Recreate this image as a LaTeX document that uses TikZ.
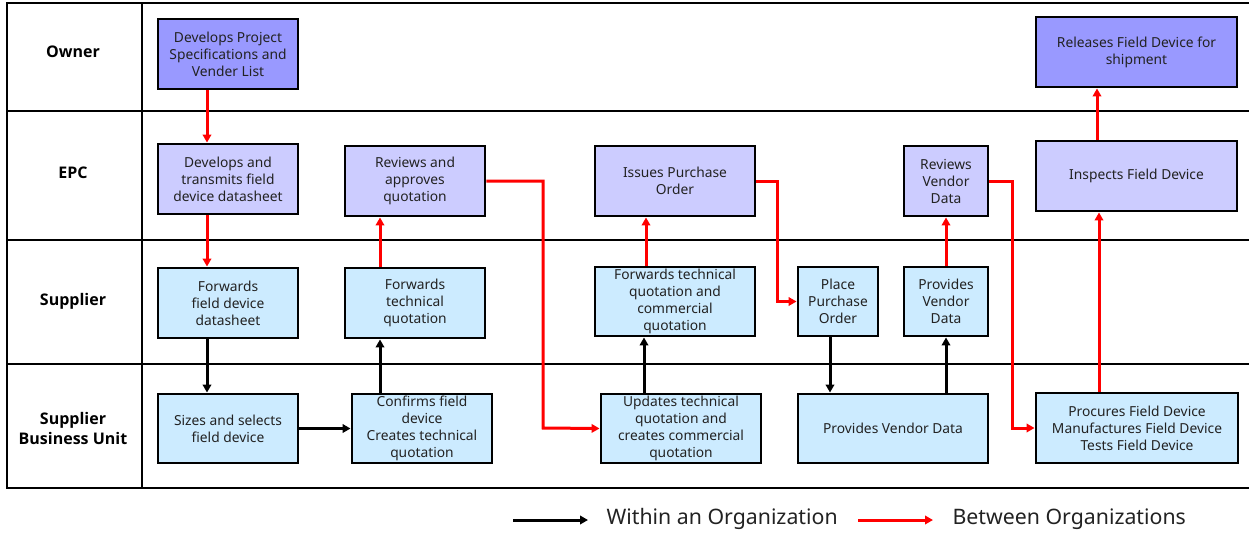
\documentclass[tikz,border=0pt]{standalone}
\usepackage{fontspec}
\setmainfont{Noto Sans}
\newfontfamily\lanefont{Open Sans}
\usetikzlibrary{arrows.meta}
\definecolor{ownerfill}{HTML}{9999FF}
\definecolor{epcfill}{HTML}{CCCCFF}
\definecolor{supfill}{HTML}{CCEBFF}
\definecolor{txt}{HTML}{222222}
\definecolor{flowred}{HTML}{FF0000}
\tikzset{
  box/.style={draw=black, line width=2.9pt, align=center, text=txt, inner sep=0pt,
    font=\fontsize{13.8}{17}\selectfont},
  ownerbox/.style={box, fill=ownerfill},
  epcbox/.style={box, fill=epcfill},
  supbox/.style={box, fill=supfill},
  lane/.style={align=center, font=\lanefont\bfseries\fontsize{16}{20}\selectfont, text=black},
  frame/.style={line width=2.3pt, black},
  flow/.style={line width=3pt, -{Triangle[length=8pt,width=8.5pt]}},
  within/.style={flow, black},
  between/.style={flow, flowred},
  legend/.style={anchor=west, font=\fontsize{21.3}{26}\selectfont, text=txt}
}
\begin{document}
\begin{tikzpicture}[x=1pt,y=-1pt]
\useasboundingbox (0,0) rectangle (1249,533);

% swimlane frame
\draw[frame] (1249,3) -- (7,3) -- (7,488) -- (1249,488);
\draw[frame] (142,3) -- (142,488);
\draw[frame] (7,111) -- (1249,111);
\draw[frame] (7,240) -- (1249,240);
\draw[frame] (7,364) -- (1249,364);

% lane titles
\node[lane] (lOwner) at (73,52) {Owner};
\node[lane] (lEPC) at (73,173) {EPC};
\node[lane] (lSup) at (73,301) {Supplier};
\node[lane] (lSBU) at (73,428) {Supplier\\Business Unit};

% Owner lane
\node[ownerbox, minimum width=140pt, minimum height=70pt] (ow1) at (228,54)
  {Develops Project\\Specifications and\\Vender List};
\node[ownerbox, minimum width=201pt, minimum height=70pt] (ow2) at (1136.5,52)
  {Releases Field Device for\\shipment};

% EPC lane
\node[epcbox, minimum width=140pt, minimum height=70pt] (ep1) at (228,179)
  {Develops and\\transmits field\\device datasheet};
\node[epcbox, minimum width=140pt, minimum height=70pt] (ep2) at (415,181)
  {Reviews and\\approves\\quotation};
\node[epcbox, minimum width=160pt, minimum height=70pt] (ep3) at (675,181)
  {Issues Purchase\\Order};
\node[epcbox, minimum width=84pt, minimum height=70pt] (ep4) at (946,181)
  {Reviews\\Vendor\\Data};
\node[epcbox, minimum width=201pt, minimum height=70pt] (ep5) at (1136.5,176)
  {Inspects Field Device};

% Supplier lane
\node[supbox, minimum width=140pt, minimum height=70pt] (su1) at (228,303)
  {Forwards\\field device\\datasheet};
\node[supbox, minimum width=140pt, minimum height=70pt] (su2) at (415,303)
  {Forwards\\technical\\quotation};
\node[supbox, minimum width=160pt, minimum height=69pt] (su3) at (675,301.5)
  {Forwards technical\\quotation and\\commercial\\quotation};
\node[supbox, minimum width=80pt, minimum height=69pt] (su4) at (838,301.5)
  {Place\\Purchase\\Order};
\node[supbox, minimum width=84pt, minimum height=69pt] (su5) at (946,301.5)
  {Provides\\Vendor\\Data};

% Supplier business unit lane
\node[supbox, minimum width=140pt, minimum height=69pt] (bu1) at (228,428.5)
  {Sizes and selects\\field device};
\node[supbox, minimum width=140pt, minimum height=69pt] (bu2) at (422,428.5)
  {Confirms field\\device\\Creates technical\\quotation};
\node[supbox, minimum width=160pt, minimum height=69pt] (bu3) at (681,428.5)
  {Updates technical\\quotation and\\creates commercial\\quotation};
\node[supbox, minimum width=190pt, minimum height=69pt] (bu4) at (893,428.5)
  {Provides Vendor Data};
\node[supbox, minimum width=202pt, minimum height=70pt] (bu5) at (1137,428)
  {Procures Field Device\\Manufactures Field Device\\Tests Field Device};

% flows between organizations
\draw[between] (ow1.south -| 207,0) -- (ep1.north -| 207,0);
\draw[between] (ep1.south -| 207,0) -- (su1.north -| 207,0);
\draw[between] (su2.north -| 380,0) -- (ep2.south -| 380,0);
\draw[between] (ep2.east) -- (543,181) -- (543,428) -- (bu3.west);
\draw[between] (su3.north -| 646,0) -- (ep3.south -| 646,0);
\draw[between] (ep3.east) -- (777,181) -- (777,301.5) -- (su4.west);
\draw[between] (su5.north) -- (ep4.south);
\draw[between] (ep4.east) -- (1012,181) -- (1012,428) -- (bu5.west);
\draw[between] (bu5.north -| 1099,0) -- (ep5.south -| 1099,0);
\draw[between] (ep5.north -| 1097,0) -- (ow2.south -| 1097,0);

% flows within an organization
\draw[within] (su1.south -| 207,0) -- (bu1.north -| 207,0);
\draw[within] (bu1.east) -- (bu2.west);
\draw[within] (bu2.north -| 380,0) -- (su2.south -| 380,0);
\draw[within] (bu3.north -| 644,0) -- (su3.south -| 644,0);
\draw[within] (su4.south -| 830,0) -- (bu4.north -| 830,0);
\draw[within] (bu4.north -| 946,0) -- (su5.south);

% legend
\coordinate (k1a) at (513,520);
\coordinate (k1b) at (588,520);
\coordinate (k2a) at (858,520);
\coordinate (k2b) at (933,520);
\draw[within] (k1a) -- (k1b);
\node[legend] (k1) at (603,519) {Within an Organization};
\draw[between] (k2a) -- (k2b);
\node[legend] (k2) at (949,519) {Between Organizations};
\end{tikzpicture}
\end{document}
